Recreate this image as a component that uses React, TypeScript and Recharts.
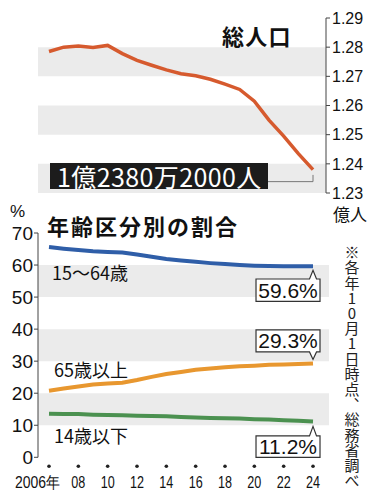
import React from 'react';
import { LineChart, Line, XAxis, YAxis, ReferenceArea, ReferenceLine, ReferenceDot } from 'recharts';

const years = [2006, 2007, 2008, 2009, 2010, 2011, 2012, 2013, 2014, 2015, 2016, 2017, 2018, 2019, 2020, 2021, 2022, 2023, 2024];
const totalPop = [1.2785, 1.2800, 1.2804, 1.2799, 1.2806, 1.2778, 1.2755, 1.2738, 1.2722, 1.2709, 1.2702, 1.2690, 1.2673, 1.2655, 1.2615, 1.2550, 1.2495, 1.2435, 1.2380];
const working = [65.6, 65.1, 64.7, 64.3, 64.1, 63.9, 63.3, 62.6, 61.9, 61.4, 61.0, 60.6, 60.3, 60.0, 59.8, 59.7, 59.6, 59.6, 59.6];
const elderly = [20.8, 21.5, 22.1, 22.7, 23.0, 23.3, 24.1, 25.1, 26.0, 26.6, 27.3, 27.7, 28.1, 28.4, 28.6, 28.9, 29.0, 29.1, 29.3];
const children = [13.6, 13.5, 13.5, 13.3, 13.2, 13.1, 13.0, 12.9, 12.8, 12.6, 12.4, 12.3, 12.2, 12.1, 11.9, 11.8, 11.6, 11.4, 11.2];

const popTicks = [1.23, 1.24, 1.25, 1.26, 1.27, 1.28, 1.29];
const popBands = [[1.27, 1.28], [1.25, 1.26], [1.23, 1.24]];
const pctTicks = [0, 10, 20, 30, 40, 50, 60, 70];
const pctBands = [[50, 60], [30, 40], [10, 20]];
const yearTicks = [2006, 2008, 2010, 2012, 2014, 2016, 2018, 2020, 2022, 2024];

const popTitle = '総人口';
const popUnit = '億人';
const popLatest = '1億2380万2000人';
const ageTitle = '年齢区分別の割合';
const seriesNames = ['15〜64歳', '65歳以上', '14歳以下'];
const latestLabels = ['59.6%', '29.3%', '11.2%'];
const note = '※各年10月1日時点、総務省調べ';

const popData = years.map((y, i) => ({ year: y, pop: totalPop[i] }));
const ageData = years.map((y, i) => ({ year: y, working: working[i], elderly: elderly[i], children: children[i] }));

const NUM = '"Liberation Sans", Arial, sans-serif';
const JP = '"Noto Sans CJK JP", "Noto Sans", sans-serif';
const BAND = '#ebebeb';
const AXIS = '#444';

const YearTick = (props: any) => {
  const { x, y, payload } = props;
  const v = payload.value as number;
  const first = v === years[0];
  return (
    <g>
      <circle cx={x} cy={y + 9} r={1.8} fill="#222" />
      {first ? (
        <text x={x - 34} y={y + 31} textAnchor="start" fontSize={16} fontFamily={NUM} fill="#111" textLength={45} lengthAdjust="spacingAndGlyphs">
          {`${v}年`}
        </text>
      ) : (
        <text x={x - 7} y={y + 31} textAnchor="start" fontSize={16} fontFamily={NUM} fill="#111" textLength={14} lengthAdjust="spacingAndGlyphs">
          {String(v).slice(2)}
        </text>
      )}
    </g>
  );
};

const makeCallout = (text: string, down: boolean, a: number, b: number, c: number) => (props: any) => {
  const { cx, cy } = props;
  const s = down ? 1 : -1;
  const L = cx - 57;
  const R = cx + 7;
  const yb = cy + s * b;
  const yc = cy + s * c;
  const d = `M${L},${yb} L${cx - 3.5},${yb} L${cx},${cy + s * a} L${cx + 3.5},${yb} L${R},${yb} L${R},${yc} L${L},${yc} Z`;
  return (
    <g>
      <path d={d} fill="#fff" stroke="#333" strokeWidth={1.2} />
      <text x={(L + R) / 2} y={(yb + yc) / 2} textAnchor="middle" dominantBaseline="central" fontSize={21} fontFamily={NUM} fill="#111">
        {text}
      </text>
    </g>
  );
};

export default function App() {
  return (
    <div style={{ position: 'relative', width: 377, height: 500, background: '#fff', overflow: 'hidden' }}>
      <style>{`body{margin:0;background:#fff}`}</style>
      <div style={{ position: 'absolute', left: 0, top: 0 }}>
        <LineChart width={377} height={210} data={popData} margin={{ top: 18, right: 0, left: 38, bottom: 17 }}>
          <XAxis dataKey="year" type="number" domain={[2005.25, 2024.886]} hide />
          <YAxis
            orientation="right"
            width={51}
            domain={[1.23, 1.29]}
            ticks={popTicks}
            tickFormatter={(v: number) => v.toFixed(2)}
            tickSize={4}
            tickMargin={2}
            axisLine={{ stroke: AXIS, strokeWidth: 1 }}
            tickLine={{ stroke: AXIS, strokeWidth: 1 }}
            tick={{ fontSize: 16, fontFamily: NUM, fill: '#111' }}
            interval={0}
          />
          {popBands.map(([a, b]) => (
            <ReferenceArea key={a} y1={a} y2={b} fill={BAND} fillOpacity={1} stroke="none" />
          ))}
          <ReferenceLine segment={[{ x: 2024, y: 1.2362 }, { x: 2024, y: 1.2339 }]} stroke="#777" strokeWidth={1} />
          <ReferenceLine segment={[{ x: 2024, y: 1.2339 }, { x: 2020.93, y: 1.2339 }]} stroke="#777" strokeWidth={1} />
          <Line dataKey="pop" stroke="#d65a2e" strokeWidth={3.5} dot={false} isAnimationActive={false} />
        </LineChart>
      </div>
      <div style={{ position: 'absolute', left: 0, top: 200 }}>
        <LineChart width={377} height={300} data={ageData} margin={{ top: 33, right: 48, left: 0, bottom: 2.7 }}>
          <XAxis
            dataKey="year"
            type="number"
            domain={[2005.25, 2025.09]}
            ticks={yearTicks}
            interval={0}
            axisLine={false}
            tickLine={false}
            tickSize={0}
            tickMargin={0}
            height={40}
            tick={<YearTick />}
          />
          <YAxis
            width={38}
            domain={[0, 70]}
            ticks={pctTicks}
            interval={0}
            tickSize={4}
            tickMargin={1}
            axisLine={{ stroke: AXIS, strokeWidth: 1 }}
            tickLine={{ stroke: AXIS, strokeWidth: 1 }}
            tick={{ fontSize: 19, fontFamily: NUM, fill: '#111' }}
          />
          {pctBands.map(([a, b]) => (
            <ReferenceArea key={a} y1={a} y2={b} fill={BAND} fillOpacity={1} stroke="none" />
          ))}
          <Line dataKey="working" stroke="#2f5ea8" strokeWidth={4} dot={false} isAnimationActive={false} />
          <Line dataKey="elderly" stroke="#e8972f" strokeWidth={4} dot={false} isAnimationActive={false} />
          <Line dataKey="children" stroke="#4b9150" strokeWidth={4} dot={false} isAnimationActive={false} />
          <ReferenceDot x={2024} y={working[working.length - 1]} r={0} shape={makeCallout(latestLabels[0], true, 4, 12.7, 35)} />
          <ReferenceDot x={2024} y={elderly[elderly.length - 1]} r={0} shape={makeCallout(latestLabels[1], false, 4, 11.5, 33.5)} />
          <ReferenceDot x={2024} y={children[children.length - 1]} r={0} shape={makeCallout(latestLabels[2], true, 5, 14.5, 36)} />
        </LineChart>
      </div>
      <svg width={377} height={500} style={{ position: 'absolute', left: 0, top: 0, pointerEvents: 'none' }}>
        <text x={222} y={35} dominantBaseline="central" fontSize={22} fontWeight={700} letterSpacing={1.2} fontFamily={JP} fill="#111">{popTitle}</text>
        <text x={333} y={213} dominantBaseline="central" fontSize={17} fontFamily={JP} fill="#111">{popUnit}</text>
        <rect x={50} y={163} width={218} height={26} fill="#1c1c1c" />
        <text x={57} y={176} dominantBaseline="central" fontSize={25} letterSpacing={0.4} fontFamily={JP} fill="#fff">{popLatest}</text>
        <text x={10} y={211} dominantBaseline="central" fontSize={17} fontFamily={NUM} fill="#111">%</text>
        <text x={47} y={225} dominantBaseline="central" fontSize={22} fontWeight={700} letterSpacing={2} fontFamily={JP} fill="#111">{ageTitle}</text>
        <text x={52} y={272} dominantBaseline="central" fontSize={18} fontFamily={JP} fill="#111">{seriesNames[0]}</text>
        <text x={54} y={369} dominantBaseline="central" fontSize={18} fontFamily={JP} fill="#111">{seriesNames[1]}</text>
        <text x={54} y={435} dominantBaseline="central" fontSize={18} fontFamily={JP} fill="#111">{seriesNames[2]}</text>
        <text
          x={352}
          y={245}
          fontSize={15}
          fontFamily={JP}
          fill="#222"
          textLength={243}
          lengthAdjust="spacing"
          style={{ writingMode: 'vertical-rl', textOrientation: 'upright' } as any}
        >
          {note}
        </text>
      </svg>
    </div>
  );
}
